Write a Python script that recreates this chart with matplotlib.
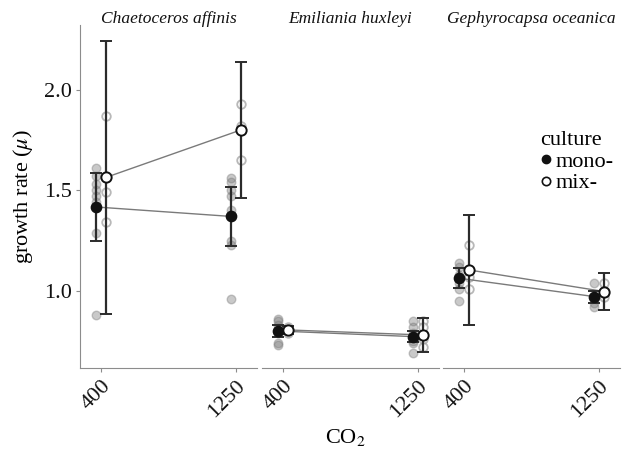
import matplotlib
matplotlib.use("Agg")
import matplotlib.pyplot as plt
from matplotlib.lines import Line2D

plt.rcParams['font.family'] = ['Liberation Serif', 'DejaVu Serif']
plt.rcParams['mathtext.fontset'] = 'stix'

# data
species = ["Chaetoceros affinis", "Emiliania huxleyi", "Gephyrocapsa oceanica"]
co2 = [400, 1250]

# mean growth rate per species, [400, 1250]
mono_mean = [[1.417, 1.370], [0.801, 0.773], [1.063, 0.972]]
mix_mean = [[1.564, 1.800], [0.806, 0.781], [1.104, 0.997]]
# error bar half widths
mono_err = [[0.168, 0.148], [0.030, 0.028], [0.049, 0.030]]
mix_err = [[0.678, 0.339], [0.020, 0.085], [0.274, 0.090]]

# replicate measurements
mono_raw = [
    [[1.61, 1.57, 1.53, 1.50, 1.47, 1.44, 1.29, 0.88],
     [1.56, 1.54, 1.50, 1.47, 1.40, 1.25, 1.23, 0.96]],
    [[0.86, 0.85, 0.83, 0.79, 0.74, 0.73],
     [0.85, 0.82, 0.79, 0.75, 0.74, 0.69]],
    [[1.14, 1.12, 1.08, 1.04, 1.01, 0.95],
     [1.04, 0.97, 0.94, 0.92]],
]
mix_raw = [
    [[1.87, 1.49, 1.34],
     [1.93, 1.82, 1.65]],
    [[0.82, 0.81, 0.79],
     [0.85, 0.82, 0.76, 0.72]],
    [[1.23, 1.07, 1.01],
     [1.04, 1.00, 0.97]],
]

W, H = 634, 454
fig = plt.figure(figsize=(W / 100, H / 100), dpi=100)

panel_left = [80, 262, 443]
panel_w = 177
top, bottom = 25, 368
dodge = 32
spine_col = "#8c8c8c"

axes = []
for i, name in enumerate(species):
    ax = fig.add_axes([panel_left[i] / W, 1 - bottom / H, panel_w / W, (bottom - top) / H])
    axes.append(ax)
    for j, x in enumerate(co2):
        xm, xx = x - dodge, x + dodge
        ax.scatter([xm] * len(mono_raw[i][j]), mono_raw[i][j], s=38,
                   facecolor="#7a7a7a", edgecolor="#7a7a7a", alpha=0.4, lw=1, zorder=2)
        ax.scatter([xx] * len(mix_raw[i][j]), mix_raw[i][j], s=38,
                   facecolor="white", edgecolor="#9a9a9a", alpha=0.7, lw=1.3, zorder=2)
    xs_mono = [x - dodge for x in co2]
    xs_mix = [x + dodge for x in co2]
    ax.plot(xs_mono, mono_mean[i], color="#7a7a7a", lw=1, zorder=3)
    ax.plot(xs_mix, mix_mean[i], color="#7a7a7a", lw=1, zorder=3)
    ax.errorbar(xs_mono, mono_mean[i], yerr=mono_err[i], fmt="none",
                ecolor="#2b2b2b", elinewidth=1.6, capsize=4, capthick=1.4, zorder=4)
    ax.errorbar(xs_mix, mix_mean[i], yerr=mix_err[i], fmt="none",
                ecolor="#2b2b2b", elinewidth=1.6, capsize=4, capthick=1.4, zorder=4)
    ax.scatter(xs_mono, mono_mean[i], s=55, facecolor="#111111",
               edgecolor="#111111", lw=1, zorder=5)
    ax.scatter(xs_mix, mix_mean[i], s=55, facecolor="white",
               edgecolor="#111111", lw=1.4, zorder=5)

    ax.set_xlim(268, 1382)
    ax.set_ylim(0.617, 2.321)
    ax.set_xticks(co2)
    ax.set_xticklabels([str(c) for c in co2], rotation=45, ha="right", va="top",
                       rotation_mode="anchor", fontsize=16)
    ax.set_yticks([1.0, 1.5, 2.0])
    ax.tick_params(axis="both", color=spine_col, length=3, width=0.8, labelsize=16,
                   pad=3, labelcolor="#111111")
    for s in ["top", "right"]:
        ax.spines[s].set_visible(False)
    ax.spines["bottom"].set_color(spine_col)
    ax.spines["left"].set_color(spine_col)
    if i > 0:
        ax.spines["left"].set_visible(False)
        ax.tick_params(axis="y", left=False, labelleft=False)
    else:
        ax.set_yticklabels(["1.0", "1.5", "2.0"])
    ax.patch.set_alpha(0)
    # strip title, centred over the panel
    fig.text((panel_left[i] + panel_w / 2) / W, 1 - 23 / H, name, fontsize=12.5,
             style="italic", ha="center", va="baseline", color="#111111")

axes[0].set_ylabel(r"growth rate ($\mu$)", fontsize=16, labelpad=6)
fig.text(345 / W, 1 - 437 / H, r"CO$_2$", fontsize=16, ha="center", va="center")

handles = [
    Line2D([], [], marker="o", ls="none", markersize=6, markerfacecolor="#111111",
           markeredgecolor="#111111"),
    Line2D([], [], marker="o", ls="none", markersize=6, markerfacecolor="white",
           markeredgecolor="#111111", markeredgewidth=1.2),
]
fig.legend(handles, ["mono-", "mix-"], title="culture", loc="upper left",
           bbox_to_anchor=(529 / W, 1 - 120 / H), frameon=False, fontsize=16,
           title_fontsize=16, handlelength=0.5, handletextpad=0.2,
           labelspacing=0.05, borderpad=0, alignment="left")

fig.savefig("out.png", dpi=100)
